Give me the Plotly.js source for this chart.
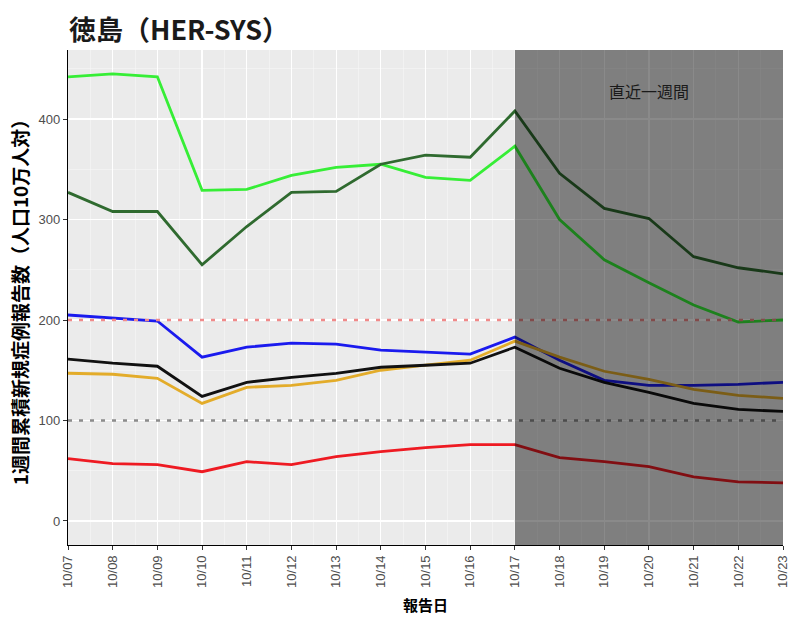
<!DOCTYPE html>
<html>
<head>
<meta charset="utf-8">
<script src="https://cdn.plot.ly/plotly-3.0.1.min.js"></script>
<style>html,body{margin:0;padding:0;background:#fff;}#chart{width:802px;height:619px;}</style>
</head>
<body>
<div id="chart"></div>
<script>
const dates = ["10/07","10/08","10/09","10/10","10/11","10/12","10/13","10/14","10/15","10/16","10/17","10/18","10/19","10/20","10/21","10/22","10/23"];
const seriesLime     = [442,445,442,329,330,344,352,355,342,339,373,300,260,237,215,198,200];
const seriesDkGreen  = [327,308,308,255,293,327,328,355,364,362,408,346,311,301,263,252,246];
const seriesBlue     = [205,202,199,163,173,177,176,170,168,166,183,160,140,135,135,136,138];
const seriesBlack    = [161,157,154,124,138,143,147,153,155,157,173,152,138,128,117,111,109];
const seriesOrange   = [147,146,142,117,133,135,140,150,155,160,179,163,149,141,131,125,122];
const seriesRed      = [62,57,56,49,59,56,64,69,73,76,76,63,59,54,44,39,38];
const thresholdHigh = 200;
const thresholdLow = 100;
const recentStart = "10/17";
const recentLabel = "直近一週間";

const xi = dates.map((d,i)=>i);
function line(y, color){
  return {x: xi, y: y, type:'scatter', mode:'lines', line:{color:color, width:2.8}, showlegend:false, hoverinfo:'skip'};
}
const traces = [
  line(seriesLime, '#36ee36'),
  line(seriesDkGreen, '#2f6a2f'),
  line(seriesBlue, '#1a1aee'),
  line(seriesOrange, '#e3ac2a'),
  line(seriesBlack, '#111111'),
  line(seriesRed, '#ee1a22'),
  {x:[0,dates.length-1], y:[thresholdHigh,thresholdHigh], type:'scatter', mode:'lines', line:{color:'#f08a8a', width:2.4, dash:'4px,7px'}, showlegend:false, hoverinfo:'skip'},
  {x:[0,dates.length-1], y:[thresholdLow,thresholdLow], type:'scatter', mode:'lines', line:{color:'#8c8c8c', width:2.4, dash:'4px,7px'}, showlegend:false, hoverinfo:'skip'}
];
const rs = dates.indexOf(recentStart);
const layout = {
  width:802, height:619,
  margin:{l:68, r:19, t:50, b:74},
  paper_bgcolor:'#ffffff',
  plot_bgcolor:'#ebebeb',
  title:{text:'<b>徳島（HER-SYS）</b>', x:0.086, xanchor:'left', y:0.95, yanchor:'middle',
         font:{family:'"Noto Sans CJK JP", "Liberation Sans", sans-serif', size:27, color:'#1a1a1a'}},
  xaxis:{
    range:[0, dates.length-1],
    tickmode:'array', tickvals:xi, ticktext:dates, tickangle:-90,
    tickfont:{family:'"Liberation Sans", Arial, sans-serif', size:13, color:'#4d4d4d'},
    showgrid:true, gridcolor:'#ffffff', gridwidth:1.2,
    minor:{dtick:0.5, tick0:0, showgrid:true, gridcolor:'#f7f7f7', gridwidth:0.6},
    showline:true, linecolor:'#000000', linewidth:1.2,
    ticks:'outside', ticklen:4, tickcolor:'#333333',
    zeroline:false,
    title:{text:'<b>報告日</b>', standoff:13, font:{family:'"Noto Sans CJK JP", sans-serif', size:15, color:'#000'}}
  },
  yaxis:{
    range:[-23.9, 468.7],
    tickmode:'array', tickvals:[0,100,200,300,400],
    tickfont:{family:'"Liberation Sans", Arial, sans-serif', size:13, color:'#4d4d4d'},
    showgrid:true, gridcolor:'#ffffff', gridwidth:1.2,
    minor:{dtick:50, tick0:0, showgrid:true, gridcolor:'#f7f7f7', gridwidth:0.6},
    showline:true, linecolor:'#000000', linewidth:1.2,
    ticks:'outside', ticklen:4, tickcolor:'#333333',
    zeroline:false,
    title:{text:'<b>1週間累積新規症例報告数（人口10万人対）</b>', standoff:4, font:{family:'"Noto Sans CJK JP", sans-serif', size:19, color:'#000'}}
  },
  shapes:[
    {type:'rect', xref:'x', yref:'paper', x0:rs, x1:dates.length-1, y0:0, y1:1,
     fillcolor:'rgba(0,0,0,0.46)', line:{width:0}, layer:'above'}
  ],
  annotations:[
    {x:(rs + dates.length-1)/2, xref:'x', y:0.945, yref:'paper', text:recentLabel, showarrow:false,
     font:{family:'"Noto Sans CJK JP", sans-serif', size:16, color:'#1a1a1a'}}
  ]
};
Plotly.newPlot('chart', traces, layout, {displayModeBar:false, staticPlot:true});
</script>
</body>
</html>
